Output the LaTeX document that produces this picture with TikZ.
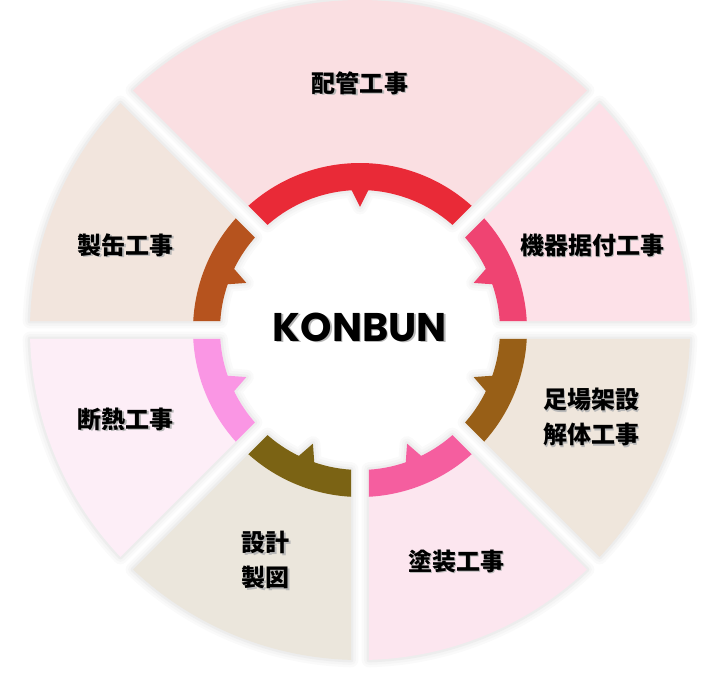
\documentclass[tikz,border=0pt]{standalone}
\usepackage{fontspec}
\usepackage{tikz}
\newfontfamily\jpfont{Noto Sans CJK JP}
\newfontfamily\logofont{Poppins}
\newcommand{\shd}[1]{\makebox[0pt][l]{\hspace{1.5bp}\raisebox{-1.5bp}{\textcolor{black!28}{#1}}}#1}
\definecolor{pipeL}{HTML}{FADFE2}  \definecolor{pipeD}{HTML}{E92A37}
\definecolor{machL}{HTML}{FDE1E8}  \definecolor{machD}{HTML}{EF4472}
\definecolor{scafL}{HTML}{EFE6DC}  \definecolor{scafD}{HTML}{985F17}
\definecolor{paintL}{HTML}{FCE6EF} \definecolor{paintD}{HTML}{F55E9F}
\definecolor{planL}{HTML}{EBE6DC}  \definecolor{planD}{HTML}{7B6314}
\definecolor{insuL}{HTML}{FDEEF7}  \definecolor{insuD}{HTML}{FA96E4}
\definecolor{canL}{HTML}{F2E5DD}   \definecolor{canD}{HTML}{B6531E}
\begin{document}
\begin{tikzpicture}[x=1bp,y=1bp,line join=round,
    slice/.style n args={4}{insert path={({#1+asin(9/#4)}:#4)
        arc[start angle={#1+asin(9/#4)},end angle={#2-asin(9/#4)},radius=#4]
        -- ({#2-asin(9/#3)}:#3)
        arc[start angle={#2-asin(9/#3)},end angle={#1+asin(9/#3)},radius=#3] -- cycle}},
    notch/.style={insert path={({#1+3.6}:141) -- ({#1}:123) -- ({#1-3.6}:141) -- cycle}},
    jptext/.style={font=\jpfont\bfseries\fontsize{24bp}{35bp}\selectfont,align=center,inner sep=0pt}]
    \useasboundingbox (-360,-351) rectangle (361,330);
    % soft shadow round every slice
    \foreach \g/\w in {2/15,4/10,7/5}{
        \foreach \a/\b in {45/135,135/180,180/225,225/270,270/315,315/360,0/45}{
            \draw [black!\g,line width=\w] [slice={\a}{\b}{140}{330}];
            \draw [black!\g,line width=\w] [notch={(\a+\b)/2}];
        }
    }
    % slices, ring and arrow notches
    \foreach \a/\b/\c in {45/135/pipe,135/180/can,180/225/insu,225/270/plan,
                          270/315/paint,315/360/scaf,0/45/mach}{
        \fill [\c L] [slice={\a}{\b}{140}{330}];
        \fill [\c D] [slice={\a}{\b}{140}{167}];
        \fill [\c D] [notch={(\a+\b)/2}];
    }
    \node [font=\logofont\bfseries\fontsize{40bp}{40bp}\selectfont,inner sep=0pt]
        (konbun) at (0,2) {\shd{KONBUN}};
    \node [jptext] (piping)   at (0,246)     {\shd{配管工事}};
    \node [jptext] (machine)  at (232,84)    {\shd{機器据付工事}};
    \node [jptext] (scaffold) at (231,-88)   {\shd{足場架設}\\\shd{解体工事}};
    \node [jptext] (painting) at (96,-232)   {\shd{塗装工事}};
    \node [jptext] (design)   at (-94,-231)  {\shd{設計}\\\shd{製図}};
    \node [jptext] (insulate) at (-234,-90)  {\shd{断熱工事}};
    \node [jptext] (canning)  at (-234,84)   {\shd{製缶工事}};
\end{tikzpicture}
\end{document}
